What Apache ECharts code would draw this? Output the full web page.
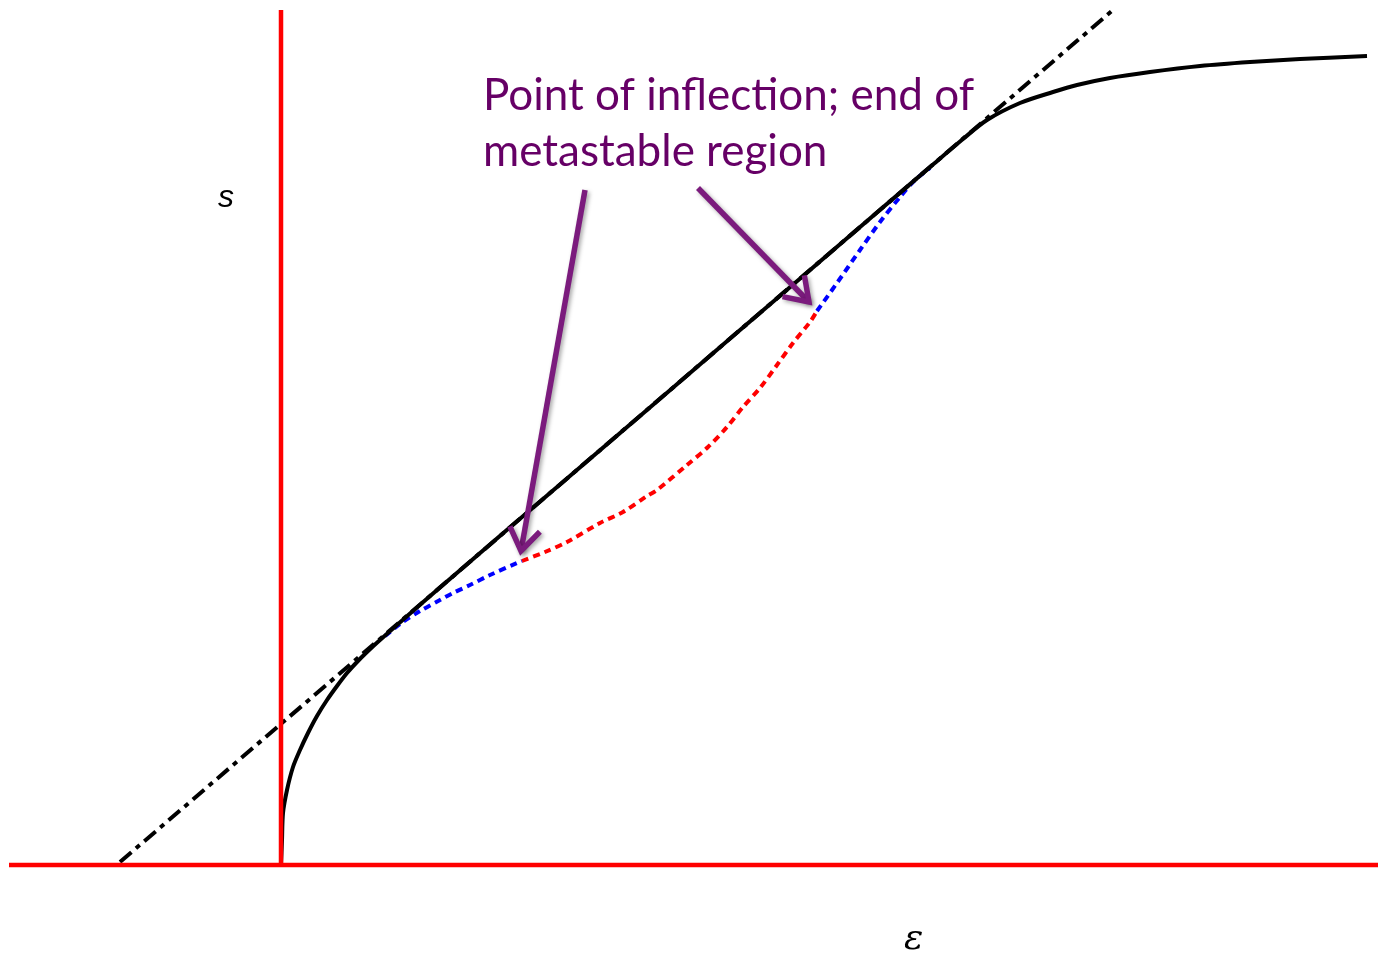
<!DOCTYPE html>
<html>
<head>
<meta charset="utf-8">
<title>Stress–strain curve with metastable region</title>
<script src="https://cdn.jsdelivr.net/npm/echarts@6/dist/echarts.min.js"></script>
<style>
  html, body { margin: 0; padding: 0; background: #ffffff; }
  #chart { width: 1378px; height: 959px; }
</style>
</head>
<body>
<div id="chart"></div>
<script>
// Plot window in (ε, s) units
const epsRange = [-2.81, 10.97];
const sRange = [-0.94, 8.65];

// Red axes: horizontal ε axis and vertical s axis
const epsAxisLine = [[-2.72, 0], [10.97, 0]];
const sAxisLine = [[0, 0], [0, 8.55]];

// Dash-dot tangent line through the straight part of the curve
const tangentLine = [[-1.61, 0.03], [8.32, 8.55]];

// Solid black curve (stable branch)
const solidCurve = [
  [0, 0], [0.005, 0.12], [0.01, 0.25], [0.02, 0.52], [0.06, 0.75], [0.12, 0.98],
  [0.19, 1.15], [0.27, 1.32], [0.36, 1.49], [0.46, 1.65], [0.56, 1.79],
  [0.66, 1.92], [0.76, 2.03], [0.86, 2.13], [0.99, 2.25],
  [1.5, 2.698], [3.0, 3.985], [4.5, 5.272], [6.0, 6.559], [6.5, 6.988],
  [6.82, 7.26], [7.06, 7.45], [7.39, 7.62], [7.72, 7.73], [7.96, 7.80],
  [8.29, 7.87], [8.69, 7.93], [9.19, 7.99], [9.69, 8.03], [10.19, 8.06],
  [10.86, 8.09]
];

// Dotted branch below the straight line: metastable (blue) and unstable (red)
const metastableLow = [
  [1.04, 2.29], [1.19, 2.41], [1.39, 2.54], [1.59, 2.65], [1.72, 2.72],
  [1.89, 2.80], [2.09, 2.90], [2.36, 3.02], [2.41, 3.04]
];
const unstable = [
  [2.41, 3.04], [2.64, 3.13], [2.86, 3.23], [3.19, 3.42], [3.42, 3.53],
  [3.66, 3.69], [3.76, 3.75], [4.06, 4.00], [4.27, 4.18], [4.46, 4.38],
  [4.62, 4.58], [4.79, 4.77], [4.96, 5.00], [5.12, 5.22], [5.29, 5.43],
  [5.36, 5.54]
];
const metastableHigh = [
  [5.36, 5.54], [5.56, 5.82], [5.79, 6.15], [5.99, 6.43], [6.19, 6.68],
  [6.34, 6.85], [6.49, 6.97]
];

// Annotation arrows: [fromε, fromS, toε, toS]
const arrows = [
  [3.04, 6.75, 2.40, 3.14],
  [4.17, 6.77, 5.28, 5.63]
];

const annotationLines = ['Point of inflection; end of', 'metastable region'];
const epsLabel = 'ε';
const sLabel = 's';

const chart = echarts.init(document.getElementById('chart'), null, { renderer: 'canvas' });

function lineSeries(name, data, color, width, type, z, smooth) {
  return {
    name: name,
    type: 'line',
    data: data,
    showSymbol: false,
    symbol: 'none',
    smooth: smooth || false,
    silent: true,
    z: z,
    lineStyle: { color: color, width: width, type: type, cap: 'butt', join: 'round' }
  };
}

const arrowColor = '#7b1b7d';

const option = {
  animation: false,
  backgroundColor: '#ffffff',
  grid: { left: 0, right: 0, top: 0, bottom: 0, containLabel: false },
  xAxis: {
    type: 'value', min: epsRange[0], max: epsRange[1],
    show: false, splitLine: { show: false }
  },
  yAxis: {
    type: 'value', min: sRange[0], max: sRange[1],
    show: false, splitLine: { show: false }
  },
  series: [
    lineSeries('metastable-low', metastableLow, '#0000ff', 4, [7, 5], 2, 0.3),
    lineSeries('unstable', unstable, '#ff0000', 4, [7, 5], 2, 0.3),
    lineSeries('metastable-high', metastableHigh, '#0000ff', 4, [7, 5], 2, 0.3),
    lineSeries('tangent', tangentLine, '#000000', 4, [15, 6, 5, 6], 3),
    lineSeries('curve', solidCurve, '#000000', 4, 'solid', 4, 0.3),
    lineSeries('eps-axis', epsAxisLine, '#ff0000', 4.5, 'solid', 5),
    lineSeries('s-axis', sAxisLine, '#ff0000', 4.5, 'solid', 5),
    {
      name: 'arrows',
      type: 'custom',
      silent: true,
      z: 6,
      data: arrows,
      encode: { x: [0, 2], y: [1, 3] },
      renderItem: function (params, api) {
        const p1 = api.coord([api.value(0), api.value(1)]);
        const p2 = api.coord([api.value(2), api.value(3)]);
        const ang = Math.atan2(p2[1] - p1[1], p2[0] - p1[0]);
        const len = 27, spread = 0.6;
        const w1 = [p2[0] - len * Math.cos(ang - spread), p2[1] - len * Math.sin(ang - spread)];
        const w2 = [p2[0] - len * Math.cos(ang + spread), p2[1] - len * Math.sin(ang + spread)];
        const style = {
          stroke: arrowColor, lineWidth: 5.5, fill: null, lineCap: 'butt', lineJoin: 'miter',
          shadowBlur: 4, shadowColor: 'rgba(0,0,0,0.35)', shadowOffsetX: 2, shadowOffsetY: 2
        };
        return {
          type: 'group',
          children: [
            { type: 'line', shape: { x1: p1[0], y1: p1[1], x2: p2[0], y2: p2[1] }, style: style },
            { type: 'polyline', shape: { points: [w1, p2, w2] }, style: style }
          ]
        };
      }
    }
  ],
  graphic: [
    {
      type: 'text', left: 483, top: 68, z: 10,
      style: {
        text: annotationLines.join('\n'),
        font: '44px Lato',
        lineHeight: 56,
        fill: '#660066'
      }
    },
    {
      type: 'text', left: 218, top: 182, z: 10,
      style: { text: sLabel, font: 'italic 32px "Liberation Sans"', fill: '#000000' }
    },
    {
      type: 'text', left: 904, top: 922, z: 10,
      style: { text: epsLabel, font: 'italic 36px "DejaVu Serif"', fill: '#000000' }
    }
  ]
};

chart.setOption(option);
</script>
</body>
</html>
